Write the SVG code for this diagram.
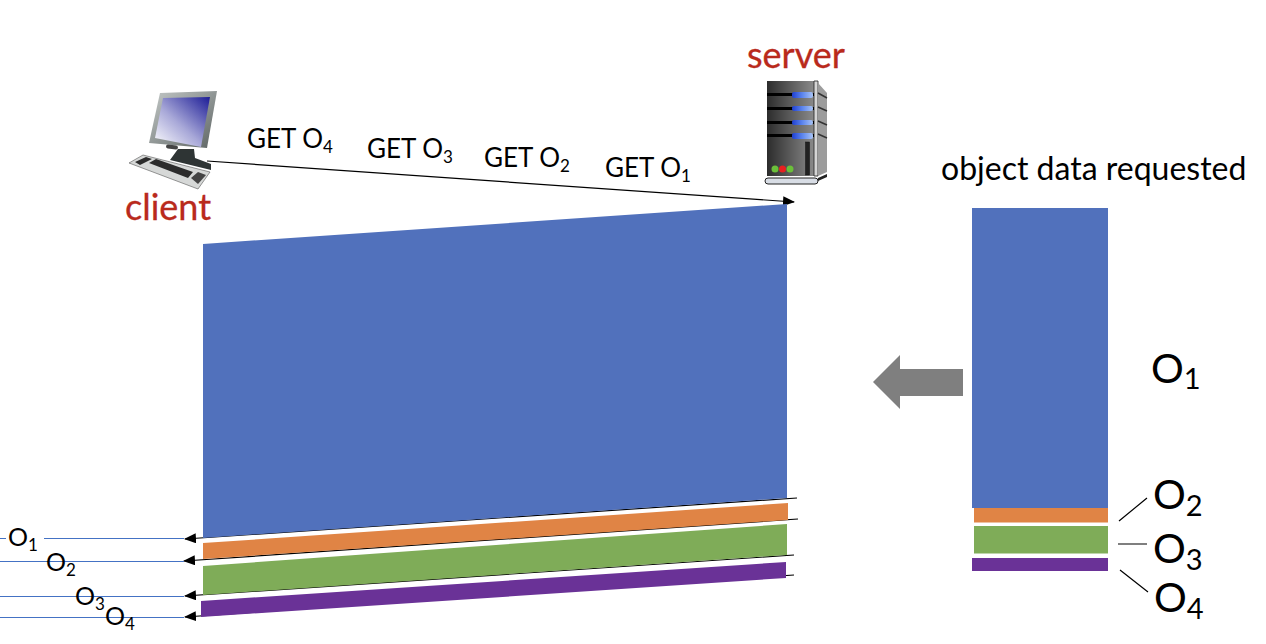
<svg xmlns="http://www.w3.org/2000/svg" width="1266" height="644" viewBox="0 0 1266 644">
<defs>
<style>
text{font-family:"Lato","Open Sans","Liberation Sans",sans-serif;fill:#000}
.r{fill:#b92a1c;font-size:36px;stroke:#b92a1c;stroke-width:.3}
.g{font-size:26px}
.gs{font-size:17px}
.m{font-size:41px}
.ms{font-size:29px}
.l{font-size:25px}
.b{stroke:#4472c4;stroke-width:1;fill:none}
.k{stroke:#000;stroke-width:1.2;fill:none}
</style>
<marker id="a" markerUnits="userSpaceOnUse" markerWidth="12" markerHeight="10" refX="11" refY="5" orient="auto"><path d="M0 0L12 5L0 10Z" fill="#000"/></marker>
<linearGradient id="scr" x1="1" y1="0" x2="0" y2="1"><stop offset="0" stop-color="#1c1c96"/><stop offset=".55" stop-color="#a8a8d8"/><stop offset="1" stop-color="#fff"/></linearGradient>
<linearGradient id="srv" x1="0" y1="0" x2="1" y2="0"><stop offset="0" stop-color="#2c2c2c"/><stop offset="1" stop-color="#8a8a8a"/></linearGradient>
<linearGradient id="bl" x1="0" y1="0" x2="1" y2="0"><stop offset="0" stop-color="#1f3fd0"/><stop offset=".5" stop-color="#5d86ee"/><stop offset="1" stop-color="#a9c4f5"/></linearGradient>
<linearGradient id="bez" x1="0" y1="0" x2="1" y2="1"><stop offset="0" stop-color="#c4c9c8"/><stop offset="1" stop-color="#5d6463"/></linearGradient>
</defs>
<g id="connectors">
<path class="k" d="M207 161L794 202" marker-end="url(#a)"/>
<path class="k" d="M797 498L185 539" marker-end="url(#a)"/>
<path class="k" d="M798 519L184 561" marker-end="url(#a)"/>
<path class="k" d="M794 555L185 596" marker-end="url(#a)"/>
<path class="k" d="M794 575L185 617" marker-end="url(#a)"/>
<path class="b" d="M0 538.500H6M44 538.500H184M0 561.500H184M0 596.500H184M0 617.500H184"/>
<path class="k" d="M1119 521L1147 498M1118 544H1147M1120 570L1148 592"/>
</g>
<g id="client">
<path d="M160 93L217 91L207 148L149 143Z" fill="url(#bez)"/>
<path d="M163 98L210 97L201 147L155 138Z" fill="url(#scr)"/>
<rect x="166" y="145" width="12" height="4" rx="2" fill="#444" transform="rotate(6 172 147)"/>
<path d="M178 149H194L195 158L211 164L211 170L170 160Z" fill="#2e3434"/>
<path d="M129 163L143 155L210 172L198 189Z" fill="#d6d8d7" stroke="#555" stroke-width=".6"/>
<path d="M135 162L146 157L152 159L140 165ZM149 163L156 159L193 172L188 178Z" fill="#2c2c2c"/>
<path d="M191 178L198 172L206 175L198 184Z" fill="#444"/>
</g>
<text id="client-label" class="r" x="125" y="220">client</text>
<g id="server">
<text class="r" x="747" y="68">server</text>
<rect x="767" y="81" width="47" height="95" fill="url(#srv)"/>
<path d="M814 81H818V176H814Z" fill="#d5d5d5" stroke="#222" stroke-width=".8"/>
<path d="M818 83L827 93V172L818 176Z" fill="#9c9c9c"/>
<path d="M818 93L827 98M818 107L827 111M818 121L827 125M818 134L827 138" stroke="#333" stroke-width="1.500"/>
<rect x="767" y="93" width="47" height="3" fill="#000"/><rect x="792" y="92" width="21" height="6" rx="2" fill="url(#bl)"/>
<rect x="767" y="107" width="47" height="3" fill="#000"/><rect x="792" y="106" width="21" height="5" rx="2" fill="url(#bl)"/>
<rect x="767" y="121" width="47" height="3" fill="#000"/><rect x="792" y="120" width="21" height="5" rx="2" fill="url(#bl)"/>
<rect x="767" y="134" width="47" height="3" fill="#000"/><rect x="792" y="133" width="21" height="6" rx="2" fill="url(#bl)"/>
<rect x="805.500" y="142" width="4" height="33" fill="#222" stroke="#111" stroke-width=".5"/>
<circle cx="775" cy="169" r="3.500" fill="#6bbf3a"/><circle cx="782.500" cy="169" r="3.500" fill="#e82020"/><circle cx="790" cy="169" r="3.500" fill="#6bbf3a"/>
<rect x="765" y="178" width="53" height="6" rx="3" fill="#d8dde5" stroke="#222"/>
<path d="M818 178L827 174V177L818 181Z" fill="#222"/>
</g>
<g id="flight-data">
<path d="M203 244L787 204V498L203 538Z" fill="#5171bc"/>
<path d="M203 543L788 503V520L203 559Z" fill="#e08445"/>
<path d="M203 566L787 524V555L203 595Z" fill="#7fac58"/>
<path d="M201 601L786 562V578L201 617Z" fill="#6a3297"/>
</g>
<g id="object-data">
<rect x="972" y="208" width="136" height="300" fill="#5171bc"/>
<rect x="974" y="508" width="134" height="14.500" fill="#e08445"/>
<rect x="974" y="526" width="134" height="27.500" fill="#7fac58"/>
<rect x="972" y="558" width="136" height="13" fill="#6a3297"/>
</g>
<path id="big-arrow" d="M963 369V396H900V409L873 382L900 355V369Z" fill="#7f7f7f"/>
<g id="labels">
<text class="g" x="247" y="148">GET O<tspan class="gs" dy="5">4</tspan></text>
<text class="g" x="367" y="158">GET O<tspan class="gs" dy="5">3</tspan></text>
<text class="g" x="484" y="167">GET O<tspan class="gs" dy="5">2</tspan></text>
<text class="g" x="605" y="177">GET O<tspan class="gs" dy="5">1</tspan></text>
<text x="941" y="180" font-size="32">object data requested</text>
<text class="m" x="1151" y="383">O<tspan class="ms" dy="6">1</tspan></text>
<text class="m" x="1153" y="509">O<tspan class="ms" dy="7">2</tspan></text>
<text class="m" x="1153" y="563">O<tspan class="ms" dy="7">3</tspan></text>
<text class="m" x="1154" y="612">O<tspan class="ms" dy="7">4</tspan></text>
<text class="l" x="8" y="546">O<tspan class="gs" dy="5">1</tspan></text>
<text class="l" x="46" y="571">O<tspan class="gs" dy="5">2</tspan></text>
<text class="l" x="75" y="605">O<tspan class="gs" dy="5">3</tspan></text>
<text class="l" x="105" y="625">O<tspan class="gs" dy="5">4</tspan></text>
</g>
</svg>
